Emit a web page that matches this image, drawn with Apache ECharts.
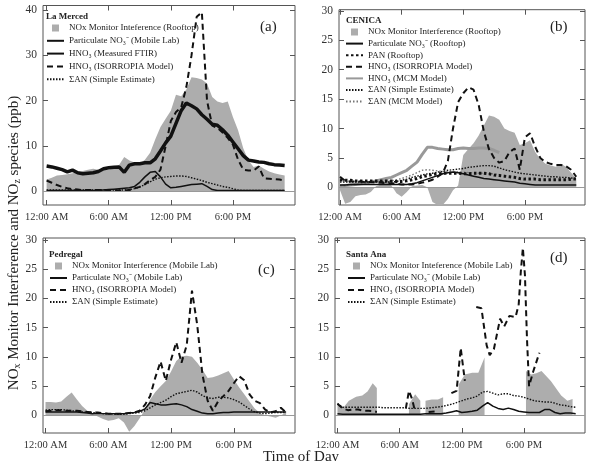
<!DOCTYPE html>
<html>
<head>
<meta charset="utf-8">
<script src="https://cdn.jsdelivr.net/npm/echarts@6/dist/echarts.min.js"></script>
<style>html,body{margin:0;padding:0;background:#fff}#main{width:590px;height:461px}</style>
</head>
<body>
<div id="main"></div>
<script>
var FONT = '"Liberation Serif", "Times New Roman", serif';
var GRAY = '#adadad';

// half-hour time grid (hours after midnight)
var hh = [0,0.5,1,1.5,2,2.5,3,3.5,4,4.5,5,5.5,6,6.5,7,7.5,8,8.5,9,9.5,10,10.5,11,11.5,12,12.5,13,13.5,14,14.5,15,15.5,16,16.5,17,17.5,18,18.5,19,19.5,20,20.5,21,21.5,22,22.5,23];
var timeTicks = [0, 6, 12, 18];
var timeLabels = ['12:00 AM', '6:00 AM', '12:00 PM', '6:00 PM'];

// (a) La Merced
var aNox = [2.6,3.0,3.5,3.6,3.8,4.0,4.2,4.5,4.8,5.0,4.8,4.7,4.8,5.2,5.8,7.6,6.8,6.4,6.1,7.0,8.5,11.5,14.2,16.0,17.8,21.3,21.0,22.5,25.2,25.0,24.7,23.8,20.8,19.8,19.5,19.8,16.4,13.5,9.5,6.8,5.4,5.7,5.0,4.4,4.0,3.7,3.5];
var aPart = [0.2,0.2,0.2,0.2,0.2,0.2,0.2,0.2,0.2,0.2,0.2,0.3,0.4,0.5,0.6,0.7,0.8,1.1,2.0,3.2,4.2,4.4,3.2,1.6,0.8,0.9,1.1,1.3,1.5,1.6,1.7,1.1,0.4,0.2,0.2,0.2,0.2,0.2,0.2,0.2,0.2,0.2,0.2,0.2,0.2,0.2,0.2];
var aFtir = [5.6,5.4,5.1,4.8,4.3,4.7,4.1,3.9,4.0,4.1,4.4,5.0,5.2,5.3,5.4,4.2,5.8,6.1,6.1,6.3,6.3,7.2,8.9,10.7,12.2,15.0,17.8,19.5,18.9,18.2,16.9,15.9,14.8,14.6,13.6,12.4,10.9,9.4,7.9,6.9,6.7,6.5,6.4,6.1,5.9,5.8,5.7];
var aIso = [2.4,1.9,1.4,1.0,0.7,0.5,0.4,0.3,0.3,0.3,0.3,0.3,0.3,0.3,0.2,0.2,0.3,0.7,1.0,1.6,2.5,3.2,4.8,10.0,15.5,17.5,18.5,23.0,30.0,38.5,39.5,20.0,14.5,14.0,13.0,11.8,10.3,7.0,4.8,4.6,4.6,5.5,2.9,2.8,2.7,2.6,2.4];
var aSan = [0.3,0.3,0.3,0.3,0.3,0.3,0.3,0.3,0.3,0.3,0.3,0.3,0.3,0.3,0.3,0.3,0.4,0.6,1.0,1.5,2.1,2.7,3.0,3.2,3.3,3.4,3.4,3.3,3.0,2.7,2.4,2.0,1.7,1.4,1.1,0.9,0.6,0.3,0.2,0.2,0.2,0.2,0.2,0.2,0.2,0.2,0.2];

// (b) CENICA
var bNox = [-0.5,-2.8,-2.5,-1.5,-1.3,-1.2,-0.8,0.2,0.5,1.8,0.3,-1.0,-1.6,-0.8,0.2,0.3,0.4,0.0,-2.5,-3.0,-3.0,-2.0,-0.5,0.3,5.5,6.5,7.5,8.8,10.5,12.2,12.0,11.5,10.0,9.6,9.3,7.2,7.5,8.0,6.0,4.8,4.0,3.7,3.5,4.0,3.5,2.5,1.5];
var bPart = [0.4,0.4,0.5,0.5,0.5,0.5,0.5,0.5,0.5,0.5,0.5,0.5,0.5,0.5,0.6,0.8,1.1,1.4,1.7,2.0,2.3,2.5,2.6,2.5,2.3,2.1,1.9,1.7,1.5,1.4,1.3,1.2,1.1,1.0,0.9,0.7,0.6,0.5,0.4,0.4,0.4,0.4,0.4,0.4,0.4,0.4,0.4];
var bPan = [1.3,1.2,1.2,1.1,1.1,1.1,1.1,1.1,1.1,1.1,1.1,1.0,1.0,1.1,1.3,1.5,1.8,2.0,2.2,2.3,2.4,2.4,2.4,2.4,2.3,2.3,2.4,2.4,2.4,2.3,2.1,2.0,1.9,1.8,1.7,1.5,1.4,1.4,1.4,1.3,1.3,1.3,1.3,1.3,1.3,1.4,1.4];
var bIso = [1.8,1.1,1.0,1.0,1.0,0.9,0.9,0.8,0.8,0.7,0.7,0.6,0.5,0.5,0.5,0.6,0.8,1.0,1.3,1.8,2.4,4.5,10.0,14.5,16.0,17.0,16.6,14.0,9.5,6.5,5.0,4.2,4.5,6.0,6.6,3.0,8.5,9.2,6.9,5.0,4.3,4.0,3.8,3.8,3.6,3.0,1.8];
var bMcm = [0.2,0.3,0.4,0.5,0.6,0.7,0.9,1.1,1.3,1.5,1.7,2.1,2.5,2.9,3.6,4.3,5.6,6.8,6.8,6.6,6.5,6.4,6.4,6.6,6.7,6.6,6.6,6.7,6.7,6.6,6.3,5.9,null,null,null,null,null,null,null,null,null,null,null,null,null,null,null];
var bSanS = [0.9,0.9,0.9,0.9,0.9,0.9,0.9,0.9,0.9,0.9,0.9,1.0,1.2,1.4,1.7,1.9,2.1,2.3,2.4,2.6,2.7,2.9,3.0,3.1,3.2,3.4,3.5,3.6,3.7,3.7,3.6,3.3,3.0,2.8,2.6,2.4,2.3,2.2,2.1,2.0,1.9,1.8,1.8,1.7,1.7,1.6,1.5];
var bSanM = [0.3,0.3,0.4,0.5,0.6,0.7,0.8,0.9,1.0,1.0,1.1,1.3,1.5,1.8,2.1,2.5,2.9,3.0,2.9,2.8,2.7,2.6,2.6,2.6,2.6,2.5,2.5,2.4,2.4,2.3,2.3,2.2,null,null,null,null,null,null,null,null,null,null,null,null,null,null,null];

// (c) Pedregal
var cNox = [2.3,2.3,2.2,2.4,3.2,3.9,2.7,1.6,0.8,0.2,-0.2,-0.6,-0.9,-0.8,-0.5,-1.2,-2.8,-1.8,-0.5,1.0,2.7,4.0,5.0,5.9,7.5,9.3,10.1,10.2,10.0,9.0,7.8,6.4,6.5,6.8,7.2,7.6,6.2,4.8,3.6,2.4,1.2,0.4,0.0,-0.2,-0.4,0.0,0.5];
var cPart = [0.6,0.6,0.6,0.6,0.6,0.6,0.6,0.5,0.4,0.3,0.3,0.3,0.3,0.3,0.3,0.3,0.4,0.5,0.7,1.1,2.2,2.0,1.8,1.8,1.9,2.0,1.8,1.5,1.0,0.7,0.4,0.3,0.3,0.4,0.5,0.5,0.6,0.6,0.6,0.6,0.6,0.6,0.6,0.6,0.6,0.6,0.6];
var cIso = [0.7,0.8,0.9,0.9,0.8,0.8,0.8,0.7,0.6,0.5,0.5,0.4,0.3,0.3,0.3,0.3,0.4,0.5,0.8,1.8,3.3,6.5,9.2,5.9,9.5,12.5,9.0,12.0,21.3,15.5,7.0,2.5,0.8,2.4,3.3,4.2,5.5,6.7,6.0,3.6,2.5,2.1,1.0,0.5,0.7,1.3,0.5];
var cSan = [0.9,1.0,1.0,1.0,0.9,0.8,0.7,0.6,0.5,0.5,0.4,0.3,0.3,0.2,0.2,0.2,0.3,0.4,0.5,0.8,1.3,1.8,2.2,2.6,3.2,3.7,3.9,4.1,4.3,4.0,3.4,3.0,2.9,3.1,3.1,3.0,2.7,2.3,1.7,1.1,0.6,0.4,0.3,0.4,0.5,0.5,0.5];

// (d) Santa Ana (interference and ISORROPIA have gaps)
var dNoxT = [0,0.3,0.6,1.1,1.8,2.4,2.9,3.4,3.8,5,6.9,7.5,8.0,8.3,8.5,9.1,9.7,10.2,11,11.7,12.3,13.0,13.6,14.2,16,18.2,18.7,19.2,19.7,20.6,21.6,22.2,22.7];
var dNox = [2.2,1.6,1.4,2.5,3.2,3.4,4.1,5.5,4.7,null,1.9,3.6,2.5,null,2.5,2.7,2.7,3.1,null,5.3,7.0,7.3,7.3,9.9,null,7.6,7.0,7.2,7.6,5.9,3.4,2.5,2.8];
var dIsoT = [0,0.5,1,1.5,2,2.5,3,3.5,3.8,5,6.6,6.9,7.2,7.5,8,8.8,9.6,10.5,11.0,11.5,11.9,12.3,12.8,13.4,13.9,14.4,14.7,15.1,15.7,16.1,16.6,17.2,17.5,17.7,17.9,18.1,18.3,18.5,18.9,19.5];
var dIso = [2.0,1.2,0.9,1.0,1.0,0.8,0.8,0.7,0.6,null,1.2,4.2,2.8,0.6,null,0.6,0.7,null,3.8,4.2,11.5,5.9,null,18.5,18.3,12.0,10.3,11.3,16.5,15.2,17.0,16.8,19.0,24.5,28.6,24.0,13.0,5.0,7.5,10.7];
var dPart = [0.3,0.2,0.2,0.2,0.2,0.2,0.2,0.2,0.2,0.2,0.2,0.2,0.2,0.2,0.2,0.2,0.2,0.3,0.3,0.3,0.3,0.4,0.6,0.8,0.5,0.6,0.7,0.9,1.6,2.2,1.6,1.2,1.0,1.25,1.0,0.7,0.6,0.5,0.5,0.5,1.0,1.0,0.5,0.3,0.4,0.4,0.3];
var dSan = [2.0,1.4,1.4,1.4,1.4,1.4,1.4,1.4,1.4,1.3,1.3,1.3,1.3,1.3,1.2,1.2,1.2,1.2,1.3,1.4,1.5,1.7,1.9,2.2,2.5,2.8,3.0,3.3,4.0,4.1,3.8,3.5,3.7,3.7,3.4,3.3,3.1,2.8,2.5,2.4,2.3,2.3,2.1,1.8,1.7,1.5,1.4];

var grids = [
  {left: 43, top: 5.5, width: 252, height: 199.5},
  {left: 339, top: 9.7, width: 246, height: 195.3},
  {left: 43, top: 238, width: 252, height: 195},
  {left: 335, top: 238, width: 250, height: 195}
];
var xRange = [[-0.35, 24], [-0.1, 23.85], [-0.24, 23.85], [-0.24, 23.9]];
var yRange = [[-3, 41], [-3, 30.2], [-3, 30.3], [-3, 30.3]];
var yTicks = [[0, 10, 20, 30, 40], [0, 5, 10, 15, 20, 25, 30], [0, 5, 10, 15, 20, 25, 30], [0, 5, 10, 15, 20, 25, 30]];

var NOX_A = 'NOx Monitor Inteference (Rooftop)';
var NOX_B = 'NOx Monitor Interference (Rooftop)';
var NOX_C = 'NOx Monitor Interference (Mobile Lab)';
var NOX_D = 'NOx Monitor Inteference (Mobile Lab)';
var PART_ML = 'Particulate NO\u2083\u207B (Mobile Lab)';
var PART_RT = 'Particulate NO\u2083\u207B (Rooftop)';
var FTIR = 'HNO\u2083 (Measured FTIR)';
var ISO = 'HNO\u2083 (ISORROPIA Model)';
var MCM = 'HNO\u2083 (MCM Model)';
var PAN = 'PAN (Rooftop)';
var SAN = '\u03A3AN (Simple Estimate)';
var SANM = '\u03A3AN (MCM Model)';

var tickStyle = {show: true, inside: true, length: 5, lineStyle: {color: '#555', width: 1}};

var xAxes = [], yAxes = [];
grids.forEach(function (g, k) {
  xAxes.push({
    type: 'value', gridIndex: k, min: xRange[k][0], max: xRange[k][1], position: 'bottom',
    axisLine: {show: false, onZero: false}, splitLine: {show: false},
    axisTick: Object.assign({customValues: timeTicks}, tickStyle),
    axisLabel: {customValues: timeTicks, margin: 7, fontSize: 10.5, fontFamily: FONT, color: '#333',
      formatter: function (v) { return timeLabels[timeTicks.indexOf(v)]; }}
  });
  xAxes.push({
    type: 'value', gridIndex: k, min: xRange[k][0], max: xRange[k][1], position: 'top',
    axisLine: {show: false, onZero: false}, splitLine: {show: false},
    axisTick: Object.assign({customValues: timeTicks}, tickStyle), axisLabel: {show: false}
  });
  yAxes.push({
    type: 'value', gridIndex: k, min: yRange[k][0], max: yRange[k][1], position: 'left',
    axisLine: {show: false, onZero: false}, splitLine: {show: false},
    axisTick: Object.assign({customValues: yTicks[k]}, tickStyle),
    axisLabel: {customValues: yTicks[k], margin: 6, fontSize: 11.5, fontFamily: FONT, color: '#333'}
  });
  yAxes.push({
    type: 'value', gridIndex: k, min: yRange[k][0], max: yRange[k][1], position: 'right',
    axisLine: {show: false, onZero: false}, splitLine: {show: false},
    axisTick: Object.assign({customValues: yTicks[k]}, tickStyle), axisLabel: {show: false}
  });
});

function pts(t, v) {
  return t.map(function (x, i) { return [x, v[i]]; });
}
function line(name, k, t, v, ls) {
  return {
    name: name, type: 'line', xAxisIndex: 2 * k, yAxisIndex: 2 * k, data: pts(t, v),
    symbol: 'none', showSymbol: false, silent: true, connectNulls: false, z: 3,
    lineStyle: ls, itemStyle: {color: ls.color}
  };
}
function area(name, k, t, v) {
  return {
    name: name, type: 'line', xAxisIndex: 2 * k, yAxisIndex: 2 * k, data: pts(t, v),
    symbol: 'none', showSymbol: false, silent: true, connectNulls: false, z: 2,
    lineStyle: {width: 0}, itemStyle: {color: GRAY}, areaStyle: {color: GRAY, opacity: 1},
    markLine: {silent: true, symbol: 'none', label: {show: false},
      lineStyle: {color: '#999', width: 1, type: 'solid'}, data: [{yAxis: 0}]}
  };
}

var SOLID = {color: '#111', width: 1.5, type: 'solid'};
var THICK = {color: '#111', width: 3.5, type: 'solid'};
var DASH = {color: '#111', width: 2, type: [6, 4]};
var DOT = {color: '#111', width: 1.4, type: [1.5, 1.5]};
var PANS = {color: '#111', width: 3, type: [2.5, 2.5]};
var MCMS = {color: '#999', width: 3, type: 'solid'};
var DOTM = {color: '#777', width: 1.4, type: [1.5, 2]};

var series = [
  area(NOX_A, 0, hh, aNox),
  line(SAN, 0, hh, aSan, DOT),
  line(PART_ML, 0, hh, aPart, SOLID),
  line(ISO, 0, hh, aIso, DASH),
  line(FTIR, 0, hh, aFtir, THICK),

  area(NOX_B, 1, hh, bNox),
  line(MCM, 1, hh, bMcm, MCMS),
  line(SANM, 1, hh, bSanM, DOTM),
  line(SAN, 1, hh, bSanS, DOT),
  line(PART_RT, 1, hh, bPart, SOLID),
  line(PAN, 1, hh, bPan, PANS),
  line(ISO, 1, hh, bIso, DASH),

  area(NOX_C, 2, hh, cNox),
  line(SAN, 2, hh, cSan, DOT),
  line(PART_ML, 2, hh, cPart, SOLID),
  line(ISO, 2, hh, cIso, DASH),

  area(NOX_D, 3, dNoxT, dNox),
  line(SAN, 3, hh, dSan, DOT),
  line(PART_ML, 3, hh, dPart, SOLID),
  line(ISO, 3, dIsoT, dIso, DASH)
];

var SQUARE = 'path://M0,0h10v10h-10z';
function legend(left, top, names, gap) {
  return {
    left: left, top: top, orient: 'vertical', padding: 0, itemGap: gap,
    itemWidth: 17, itemHeight: 7, selectedMode: false,
    textStyle: {fontFamily: FONT, fontSize: 9, color: '#222', lineHeight: 10},
    data: names.map(function (n, i) {
      return i === 0
        ? {name: n, icon: SQUARE, itemStyle: {color: GRAY, borderWidth: 0, opacity: 1}}
        : {name: n, itemStyle: {opacity: 0}};
    })
  };
}

var titleBase = {padding: 0, textStyle: {fontFamily: FONT, fontSize: 9, fontWeight: 'bold', color: '#222'}};
var letterBase = {padding: 0, textStyle: {fontFamily: FONT, fontSize: 15, fontWeight: 'normal', color: '#222'}};

var option = {
  animation: false,
  backgroundColor: '#fff',
  grid: grids.map(function (g) {
    return Object.assign({show: true, borderColor: '#555', borderWidth: 1, backgroundColor: 'transparent', containLabel: false}, g);
  }),
  xAxis: xAxes,
  yAxis: yAxes,
  title: [
    Object.assign({text: 'La Merced', left: 46, top: 12}, titleBase),
    Object.assign({text: 'CENICA', left: 346, top: 16}, titleBase),
    Object.assign({text: 'Pedregal', left: 49, top: 250}, titleBase),
    Object.assign({text: 'Santa Ana', left: 346, top: 250}, titleBase),
    Object.assign({text: '(a)', left: 260, top: 20}, letterBase),
    Object.assign({text: '(b)', left: 550, top: 20}, letterBase),
    Object.assign({text: '(c)', left: 258, top: 263}, letterBase),
    Object.assign({text: '(d)', left: 550, top: 251}, letterBase)
  ],
  legend: [
    legend(46, 23, [NOX_A, PART_ML, FTIR, ISO, SAN], 2.8),
    legend(345, 27, [NOX_B, PART_RT, PAN, ISO, MCM, SAN, SANM], 1.6),
    legend(49, 261, [NOX_C, PART_ML, ISO, SAN], 2),
    legend(347, 261, [NOX_D, PART_ML, ISO, SAN], 2)
  ],
  graphic: [
    {type: 'text', x: 14, y: 243, rotation: Math.PI / 2, silent: true,
      style: {
        text: '{a|NO}{s|x}{a| Monitor Interference and NO}{s|z}{a| species (ppb)}',
        align: 'center', verticalAlign: 'middle',
        rich: {
          a: {fontSize: 15, fontFamily: FONT, fill: '#222', lineHeight: 16},
          s: {fontSize: 10, fontFamily: FONT, fill: '#222', lineHeight: 10, verticalAlign: 'bottom'}
        }
      }},
    {type: 'text', x: 301, y: 457, silent: true,
      style: {text: 'Time of Day', fontSize: 15, fontFamily: FONT, fill: '#222', align: 'center', verticalAlign: 'middle'}}
  ],
  series: series
};

var chart = echarts.init(document.getElementById('main'), null, {renderer: 'canvas'});
chart.setOption(option);
</script>
</body>
</html>
